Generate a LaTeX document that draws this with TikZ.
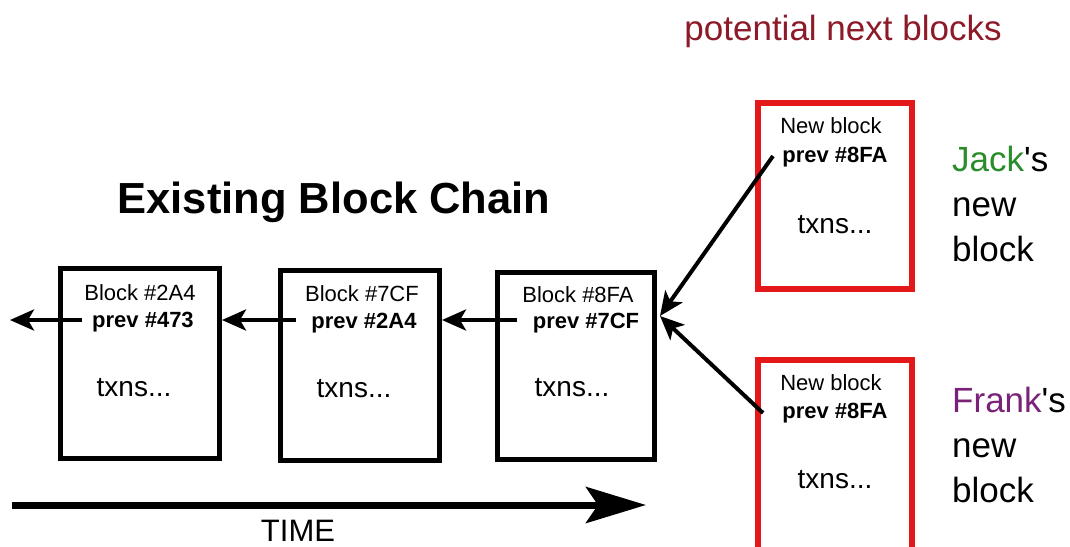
\documentclass[tikz,border=0pt]{standalone}
\usepackage{fontspec}
\setmainfont{Liberation Sans}
\usetikzlibrary{arrows.meta}
\definecolor{boxred}{RGB}{228,24,24}
\definecolor{titlered}{RGB}{140,26,40}
\definecolor{jackgreen}{RGB}{42,140,42}
\definecolor{frankpurple}{RGB}{122,34,122}

\begin{document}
\begin{tikzpicture}[x=1pt,y=-1pt,
  blockbox/.style={draw=black, line width=5pt, minimum width=159pt, minimum height=190pt, inner sep=0pt},
  newbox/.style={draw=boxred, line width=6pt, minimum width=154pt, minimum height=186pt, inner sep=0pt},
  hdr/.style={font=\fontsize{22}{24}\selectfont, anchor=base, inner sep=0pt},
  prevtxt/.style={font=\fontsize{22}{24}\selectfont\bfseries, anchor=base, inner sep=0pt},
  txnstxt/.style={font=\fontsize{28}{30}\selectfont, anchor=base, inner sep=0pt},
  sidetxt/.style={font=\fontsize{35}{40}\selectfont, anchor=base west, inner sep=0pt},
  link/.style={line width=4pt, -{Stealth[length=24pt,width=21pt,inset=6pt]}},
  timeline/.style={line width=7pt, -{Stealth[length=60pt,width=36pt,inset=12pt]}}
]
\useasboundingbox (0,0) rectangle (1070,546);
\fill[white] (0,0) rectangle (1070,546);
\begin{scope}
\clip (0,0) rectangle (1070,546);

% headings
\node[font=\fontsize{43.5}{48}\selectfont\bfseries, anchor=base, inner sep=0pt] (title) at (334,213) {Existing Block Chain};
\node[font=\fontsize{35}{40}\selectfont, text=titlered, anchor=base, inner sep=0pt] (potential) at (843,40) {potential next blocks};

% existing chain
\node[blockbox] (b1) at (140,363.5) {};
\node[blockbox] (b2) at (360,365.5) {};
\node[blockbox, minimum width=157pt, minimum height=187pt] (b3) at (576,366) {};

\node[hdr] (b1h) at (140,300) {Block \#2A4};
\node[prevtxt] (b1p) at (143,327) {prev \#473};
\node[txnstxt] (b1t) at (134,396) {txns...};

\node[hdr] (b2h) at (362,301) {Block \#7CF};
\node[prevtxt] (b2p) at (364,328) {prev \#2A4};
\node[txnstxt] (b2t) at (354,397) {txns...};

\node[hdr] (b3h) at (578,302) {Block \#8FA};
\node[prevtxt] (b3p) at (586,328) {prev \#7CF};
\node[txnstxt] (b3t) at (572,396) {txns...};

% candidate blocks
\node[newbox] (n1) at (835,196) {};
\node[newbox, minimum height=200pt] (n2) at (835,460) {};

\node[hdr] (n1h) at (831,133) {New block};
\node[prevtxt] (n1p) at (835,162) {prev \#8FA};
\node[txnstxt] (n1t) at (835,233) {txns...};

\node[hdr] (n2h) at (831,390) {New block};
\node[prevtxt] (n2p) at (835,418) {prev \#8FA};
\node[txnstxt] (n2t) at (835,488) {txns...};

% owners
\node[sidetxt] (j1) at (952,171) {\textcolor{jackgreen}{Jack}\textquotesingle s};
\node[sidetxt] (j2) at (952,216) {new};
\node[sidetxt] (j3) at (952,261) {block};
\node[sidetxt] (f1) at (952,412) {\textcolor{frankpurple}{Frank}\textquotesingle s};
\node[sidetxt] (f2) at (952,457) {new};
\node[sidetxt] (f3) at (952,502) {block};

% back-links
\coordinate (s1) at (82,320);
\coordinate (e1) at (10,320);
\coordinate (s2) at (296,320);
\coordinate (s3) at (517,320);
\coordinate (sn1) at (773,156);
\coordinate (sn2) at (763,413);
\coordinate (hit) at (660,316);

\draw[link] (s1) -- (e1);
\draw[link] (s2) -- (s2 -| b1.east);
\draw[link] (s3) -- (s3 -| b2.east);
\draw[link] (sn1) -- (hit);
\draw[link] (sn2) -- (hit);

% time axis
\coordinate (t0) at (12,505);
\coordinate (t1) at (646,505);
\draw[timeline] (t0) -- (t1);
\node[font=\fontsize{31}{34}\selectfont, anchor=base, inner sep=0pt] (time) at (298,541) {TIME};
\end{scope}
\end{tikzpicture}
\end{document}
